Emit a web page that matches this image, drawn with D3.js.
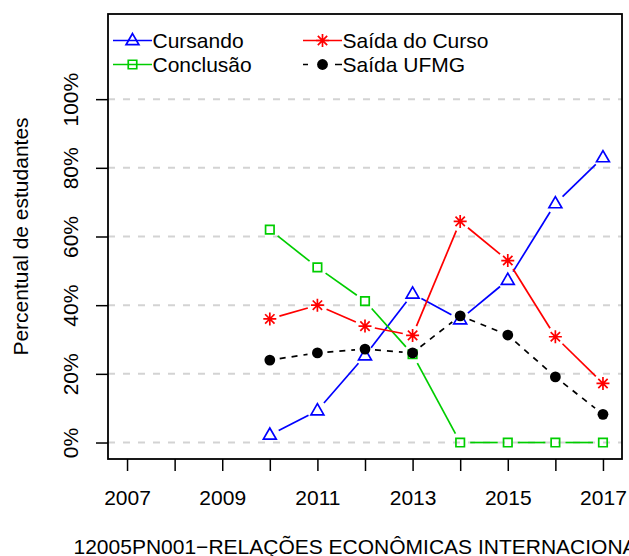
<!DOCTYPE html>
<html>
<head>
<meta charset="utf-8">
<script src="https://cdn.jsdelivr.net/npm/d3@7"></script>
<style>
  html, body { margin: 0; padding: 0; background: #fff; }
  svg { display: block; font-family: "Liberation Sans", Arial, Helvetica, sans-serif; }
</style>
</head>
<body>
<svg id="chart" width="629" height="556"></svg>
<script>
// ---- data ----
const years = [2010, 2011, 2012, 2013, 2014, 2015, 2016, 2017];
const cursando   = [2.2, 9.3, 25.3, 43.3, 35.8, 47.3, 69.6, 83.0];
const saidaCurso = [36.0, 40.0, 33.9, 31.2, 64.4, 53.0, 30.8, 17.2];
const conclusao  = [62.0, 51.0, 41.2, 25.7, 0, 0, 0, 0];
const saidaUFMG  = [24.0, 26.1, 27.2, 26.1, 36.9, 31.3, 19.1, 8.2];
const seriesNames = ["Cursando", "Conclusão", "Saída do Curso", "Saída UFMG"];
const xTickYears = [2007, 2008, 2009, 2010, 2011, 2012, 2013, 2014, 2015, 2016, 2017];
const yTicks = [0, 20, 40, 60, 80, 100];
const yTickLabels = ["0%", "20%", "40%", "60%", "80%", "100%"];
const yTitle = "Percentual de estudantes";
const xTitle = "12005PN001\u2212RELAÇÕES ECONÔMICAS INTERNACIONAIS";

// ---- layout ----
const svg = d3.select("#chart");
const L = 108, R = 622, T = 14, B = 459;
const x = d3.scaleLinear().domain([2006.6, 2017.4]).range([L, R]);
const y = d3.scaleLinear().domain([-4.8, 124.8]).range([B, T]);
const FS = 21;

const series = [
  { name: seriesNames[0], values: cursando,   color: "#0000FF", shape: "triangle", dash: null },
  { name: seriesNames[1], values: conclusao,  color: "#00CD00", shape: "square",   dash: null },
  { name: seriesNames[2], values: saidaCurso, color: "#FF0000", shape: "asterisk", dash: null },
  { name: seriesNames[3], values: saidaUFMG,  color: "#000000", shape: "circle",   dash: "6,6" }
];

// gridlines
svg.append("g").selectAll("line").data(yTicks).join("line")
  .attr("x1", L).attr("x2", R)
  .attr("y1", d => y(d)).attr("y2", d => y(d))
  .attr("stroke", "#d3d3d3").attr("stroke-width", 2)
  .attr("stroke-dasharray", "7,8");

// markers
function drawMarker(g, shape, cx, cy, color) {
  if (shape === "triangle") {
    g.append("path").attr("d", d3.symbol(d3.symbolTriangle, 72)())
      .attr("transform", `translate(${cx},${cy + 0.5})`)
      .attr("fill", "none").attr("stroke", color).attr("stroke-width", 1.7);
  } else if (shape === "square") {
    g.append("path").attr("d", d3.symbol(d3.symbolSquare, 72)())
      .attr("transform", `translate(${cx},${cy})`)
      .attr("fill", "none").attr("stroke", color).attr("stroke-width", 1.7);
  } else if (shape === "circle") {
    g.append("circle").attr("cx", cx).attr("cy", cy).attr("r", 5.4).attr("fill", color);
  } else if (shape === "asterisk") {
    const r = 6.5, q = r * 0.72;
    const p = `M${cx - r},${cy}L${cx + r},${cy}M${cx},${cy - r}L${cx},${cy + r}` +
              `M${cx - q},${cy - q}L${cx + q},${cy + q}M${cx - q},${cy + q}L${cx + q},${cy - q}`;
    g.append("path").attr("d", p).attr("stroke", color).attr("stroke-width", 1.7).attr("fill", "none");
  }
}

// series: lines with gaps around points (type "b") then points
const gap = 10;
series.forEach(s => {
  const g = svg.append("g");
  const pts = years.map((yr, i) => [x(yr), y(s.values[i])]);
  for (let i = 0; i < pts.length - 1; i++) {
    const [x1, y1] = pts[i], [x2, y2] = pts[i + 1];
    const dx = x2 - x1, dy = y2 - y1, len = Math.hypot(dx, dy);
    if (len <= 2 * gap) continue;
    const ux = dx / len, uy = dy / len;
    g.append("line")
      .attr("x1", x1 + ux * gap).attr("y1", y1 + uy * gap)
      .attr("x2", x2 - ux * gap).attr("y2", y2 - uy * gap)
      .attr("stroke", s.color).attr("stroke-width", 1.7)
      .attr("stroke-dasharray", s.dash);
  }
  pts.forEach(([px, py]) => drawMarker(g, s.shape, px, py, s.color));
});

// box
svg.append("rect").attr("x", L).attr("y", T).attr("width", R - L).attr("height", B - T)
  .attr("fill", "none").attr("stroke", "#000").attr("stroke-width", 1.8);

// x axis
const xAxis = svg.append("g").attr("transform", `translate(0,${B})`)
  .call(d3.axisBottom(x).tickValues(xTickYears).tickSize(12).tickSizeOuter(0)
    .tickFormat(d => (d % 2 === 1 ? String(d) : "")));
xAxis.select(".domain").remove();
xAxis.selectAll(".tick line").attr("stroke", "#000").attr("stroke-width", 1.5);
xAxis.selectAll(".tick text").attr("y", 46).attr("dy", 0)
  .attr("font-size", FS).attr("font-family", null).attr("fill", "#000");

// y axis
const yAxis = svg.append("g").attr("transform", `translate(${L},0)`)
  .call(d3.axisLeft(y).tickValues(yTicks).tickSize(12).tickSizeOuter(0)
    .tickFormat((d, i) => yTickLabels[i]));
yAxis.select(".domain").remove();
yAxis.selectAll(".tick line").attr("stroke", "#000").attr("stroke-width", 1.5);
yAxis.selectAll(".tick text")
  .attr("x", 0).attr("y", -30).attr("dy", 0)
  .attr("transform", "rotate(-90)")
  .attr("text-anchor", "middle")
  .attr("font-size", FS).attr("font-family", null).attr("fill", "#000");

// titles
svg.append("text").attr("transform", `translate(28,${(T + B) / 2}) rotate(-90)`)
  .attr("text-anchor", "middle").attr("font-size", FS).text(yTitle);
svg.append("text").attr("x", (L + R) / 2).attr("y", 554)
  .attr("text-anchor", "middle").attr("font-size", FS).text(xTitle);

// legend
const legendPos = [
  { s: series[0], x: 113, y: 40.5 },
  { s: series[1], x: 113, y: 64.5 },
  { s: series[2], x: 303, y: 40.5 },
  { s: series[3], x: 303, y: 64.5 }
];
const lg = svg.append("g");
legendPos.forEach(p => {
  const ln = lg.append("line").attr("x1", p.x).attr("x2", p.x + 39)
    .attr("y1", p.y).attr("y2", p.y)
    .attr("stroke", p.s.color).attr("stroke-width", 1.7);
  if (p.s.dash) ln.attr("stroke-dasharray", "5,27,7");
  drawMarker(lg, p.s.shape, p.x + 19.5, p.y, p.s.color);
  lg.append("text").attr("x", p.x + 39.5).attr("y", p.y + 7.5)
    .attr("font-size", FS).attr("fill", "#000").text(p.s.name);
});
</script>
</body>
</html>
